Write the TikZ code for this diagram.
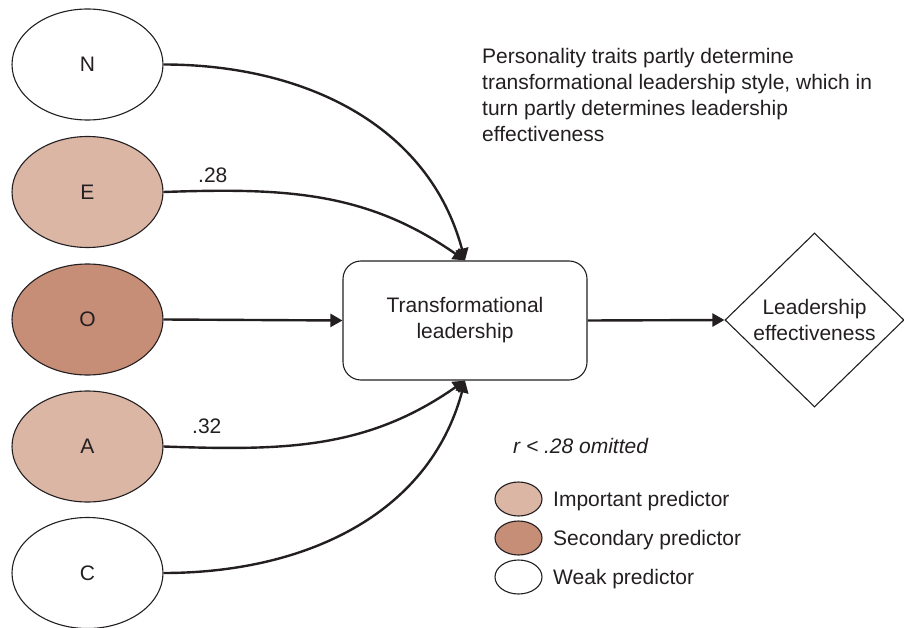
\documentclass[tikz,border=0pt]{standalone}
\usepackage{fontspec}
\setmainfont{Liberation Sans}
\usetikzlibrary{shapes.geometric,arrows.meta,calc,positioning}
\definecolor{important}{HTML}{DBB6A5}
\definecolor{secondary}{HTML}{C68D77}
\definecolor{ink}{HTML}{231F20}

\begin{document}
\begin{tikzpicture}[x=1pt,y=1pt,
		font=\fontsize{21}{26}\selectfont, text=ink,
		trait/.style={draw=ink, line width=1.1pt, ellipse, minimum width=151pt, minimum height=111pt, inner sep=0pt},
		key/.style={draw=ink, line width=1.1pt, ellipse, minimum width=47pt, minimum height=34pt, inner sep=0pt},
		link/.style={draw=ink, line width=2.4pt, -{Triangle[length=12pt,width=13pt]}}]
			\useasboundingbox (0,0) rectangle (904,-628);
			% predictors
			\node[trait] (N) at (87.5,-64.5) {N};
			\node[trait, fill=important] (E) at (87.5,-192) {E};
			\node[trait, fill=secondary] (O) at (87.5,-319.5) {O};
			\node[trait, fill=important] (A) at (87.5,-446.5) {A};
			\node[trait] (C) at (87.5,-573) {C};
			% mediator and outcome
			\node[draw=ink, line width=1.1pt, rounded corners=18pt, minimum width=244pt, minimum height=119pt, align=center] (TL) at (465,-320.5) {Transformational\\leadership};
			\node[draw=ink, line width=1.1pt, diamond, minimum width=179pt, minimum height=174pt, inner sep=0pt, align=center] (LE) at (814.5,-320) {Leadership\\effectiveness};
			\draw[link] (N.east) to[out=0, in=105] (TL.north);
			\draw[link] (E.east) to[out=2, in=145] (TL.north);
			\draw[link] (O.east) -- (TL.west);
			\draw[link] (A.east) to[out=-2, in=-145] (TL.south);
			\draw[link] (C.east) to[out=0, in=-105] (TL.south);
			\draw[link] (TL.east) -- (LE.west);
			\node[anchor=base west, inner sep=0pt] (rE) at (198,-183) {.28};
			\node[anchor=base west, inner sep=0pt] (rA) at (192,-433) {.32};
			% note and legend
			\node[anchor=north west, align=left, inner sep=0pt] (note) at (482,-48) {Personality traits partly determine\\transformational leadership style, which in\\turn partly determines leadership\\effectiveness};
			\node[anchor=base west, inner sep=0pt] (omit) at (513,-453) {\itshape r < .28 omitted};
			\node[key, fill=important] (k1) at (518.5,-499) {};
			\node[key, fill=secondary] (k2) at (518.5,-538) {};
			\node[key] (k3) at (518.5,-577) {};
			\node[anchor=base west, inner sep=0pt] at (553,-506) {Important predictor};
			\node[anchor=base west, inner sep=0pt] at (553,-545) {Secondary predictor};
			\node[anchor=base west, inner sep=0pt] at (553,-584) {Weak predictor};
\end{tikzpicture}
\end{document}
